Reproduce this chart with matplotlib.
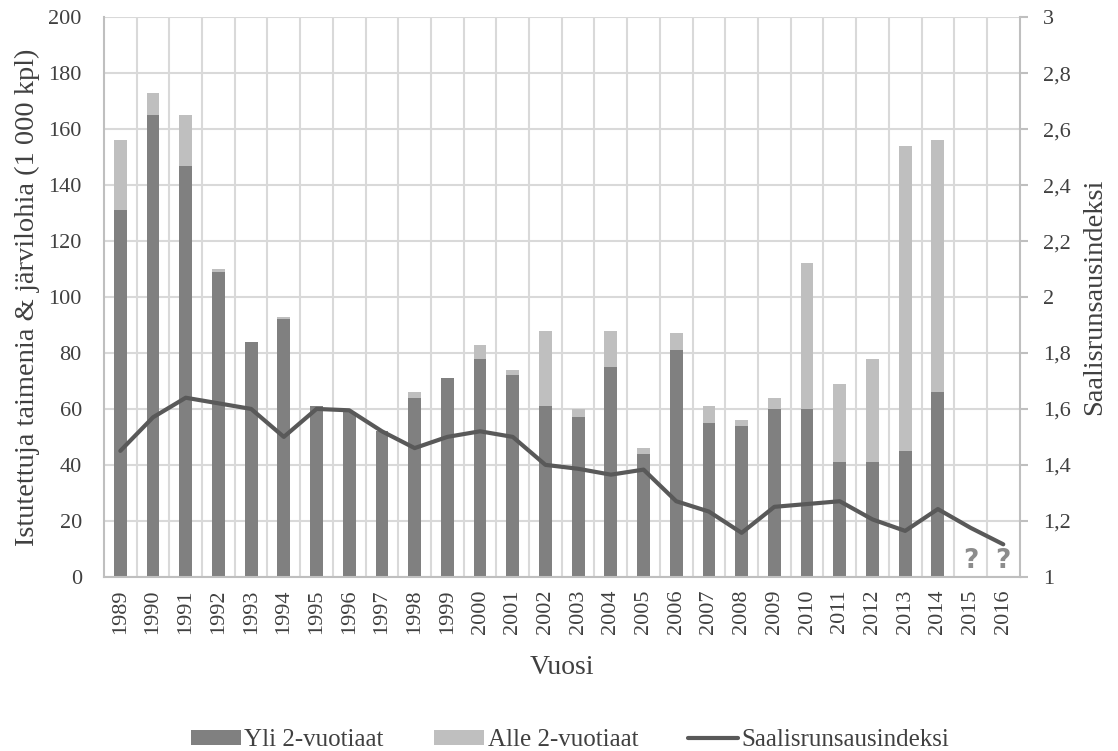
import numpy as np
import matplotlib
matplotlib.use("Agg")
import matplotlib.pyplot as plt
from matplotlib.ticker import FuncFormatter, FixedLocator

years = list(range(1989, 2017))
yli = [131, 165, 147, 109, 84, 92, 61, 59, 52, 64, 71, 78, 72, 61, 57, 75, 44, 81, 55, 54, 60, 60, 41, 41, 45, 66, 0, 0]
alle = [25, 8, 18, 1, 0, 1, 0, 0, 0, 2, 0, 5, 2, 27, 3, 13, 2, 6, 6, 2, 4, 52, 28, 37, 109, 90, 0, 0]
indeksi = [1.45, 1.57, 1.64, 1.62, 1.60, 1.50, 1.60, 1.595, 1.52, 1.46, 1.50, 1.52, 1.50, 1.40,
           1.386, 1.365, 1.383, 1.27, 1.233, 1.157, 1.25, 1.26, 1.27, 1.205, 1.164, 1.242, 1.175, 1.116]
unknown_years = [2015, 2016]

plt.rcParams['font.family'] = ['Liberation Serif', 'DejaVu Serif']
txt = '#404040'


def main():
    fig = plt.figure(figsize=(11.18, 7.51), dpi=100)
    ax = fig.add_axes([0.093, 0.232, 0.819, 0.745])
    x = np.arange(len(years))

    ax.bar(x, yli, width=0.39, color='#808080', label='Yli 2-vuotiaat', zorder=2)
    ax.bar(x, alle, width=0.39, bottom=yli, color='#bfbfbf', label='Alle 2-vuotiaat', zorder=2)

    ax.set_xlim(-0.5, len(years) - 0.5)
    ax.set_ylim(0, 200)
    ax.set_yticks(range(0, 201, 20))
    ax.set_xticks(x)
    ax.set_xticklabels([str(y) for y in years], rotation=90, fontsize=16, color=txt)
    ax.xaxis.set_minor_locator(FixedLocator(x[:-1] + 0.5))
    ax.tick_params(axis='x', which='both', length=0, pad=9)
    ax.tick_params(axis='y', length=0, labelsize=16, labelcolor=txt, pad=16)
    ax.grid(axis='y', color='#d9d9d9', linewidth=1.5, zorder=0)
    ax.grid(axis='x', which='minor', color='#d9d9d9', linewidth=1.5, zorder=0)
    ax.set_axisbelow(True)
    for s in ['top', 'right']:
        ax.spines[s].set_visible(False)
    for s in ['left', 'bottom']:
        ax.spines[s].set_color('#bfbfbf')
        ax.spines[s].set_linewidth(1.5)

    # puuttuvat vuodet
    for yr in unknown_years:
        ax.text(years.index(yr), 1, '?', ha='center', va='bottom', fontsize=19,
                fontweight='bold', color='#8c8c8c', family=['DejaVu Sans'], zorder=4)

    ax.set_ylabel('Istutettuja taimenia & järvilohia (1 000 kpl)', fontsize=20.5, color=txt)
    ax.yaxis.set_label_coords(-0.07, 0.5)
    ax.set_xlabel('Vuosi', fontsize=20, color=txt)
    ax.xaxis.set_label_coords(0.5, -0.14)

    ax2 = ax.twinx()
    ax2.plot(x, indeksi, color='#595959', linewidth=3, label='Saalisrunsausindeksi', zorder=3,
             solid_capstyle='round')
    ax2.set_ylim(1, 3)
    ax2.set_yticks(np.arange(1, 3.01, 0.2))
    ax2.yaxis.set_major_formatter(FuncFormatter(lambda v, p: ('%g' % round(v, 1)).replace('.', ',')))
    ax2.tick_params(axis='y', length=6, width=1.5, color='#bfbfbf', labelsize=16, labelcolor=txt, pad=11)
    for s in ['top', 'left', 'bottom']:
        ax2.spines[s].set_visible(False)
    ax2.spines['right'].set_color('#bfbfbf')
    ax2.spines['right'].set_linewidth(1.5)
    ax2.set_ylabel('Saalisrunsausindeksi', fontsize=20.5, color=txt, rotation=90)
    ax2.yaxis.set_label_coords(1.068, 0.5)

    h1, l1 = ax.get_legend_handles_labels()
    h2, l2 = ax2.get_legend_handles_labels()
    fig.legend(h1 + h2, l1 + l2, loc='center', bbox_to_anchor=(0.51, 0.0146), ncol=3,
               frameon=False, fontsize=18, labelcolor=txt, columnspacing=2.0,
               handlelength=2.0, handletextpad=0.15, handleheight=0.55)

    fig.savefig('out.png', dpi=100)


if __name__ == '__main__':
    main()
